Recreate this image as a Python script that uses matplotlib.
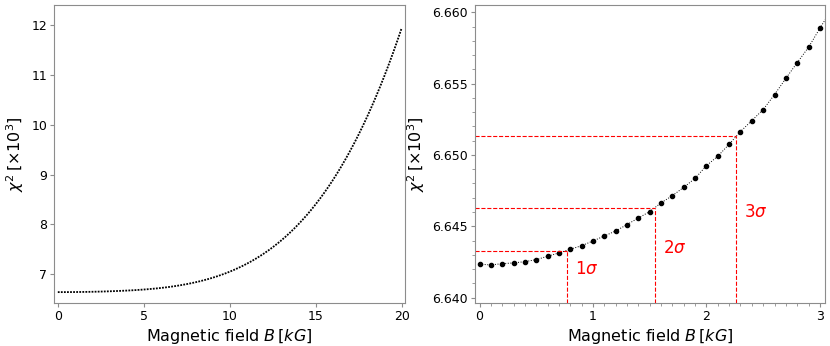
import numpy as np
import matplotlib
matplotlib.use("Agg")
import matplotlib.pyplot as plt
from matplotlib.ticker import MultipleLocator

# chi^2 [x10^3] vs magnetic field B [kG]
# fine part 0..3 kG (0.1 steps), visible in the zoomed panel
b_fine = [0.0, 0.1, 0.2, 0.3, 0.4, 0.5, 0.6, 0.7, 0.8, 0.9,
          1.0, 1.1, 1.2, 1.3, 1.4, 1.5, 1.6, 1.7, 1.8, 1.9,
          2.0, 2.1, 2.2, 2.3, 2.4, 2.5, 2.6, 2.7, 2.8, 2.9, 3.0]
chi_fine = [6.64234, 6.64229, 6.64238, 6.64243, 6.64252, 6.64266, 6.64290,
            6.64313, 6.64339, 6.64364, 6.64397, 6.64432, 6.64467, 6.64512,
            6.64558, 6.64603, 6.64664, 6.64715, 6.64773, 6.64836, 6.64925,
            6.64991, 6.65075, 6.65164, 6.65241, 6.65318, 6.65423, 6.65537,
            6.65647, 6.65755, 6.65888]

# coarse part 3.25..20 kG (0.25 steps)
b_coarse = [3.25, 3.5, 3.75, 4.0, 4.25, 4.5, 4.75, 5.0, 5.25, 5.5, 5.75,
            6.0, 6.25, 6.5, 6.75, 7.0, 7.25, 7.5, 7.75, 8.0, 8.25, 8.5, 8.75,
            9.0, 9.25, 9.5, 9.75, 10.0, 10.25, 10.5, 10.75, 11.0, 11.25, 11.5,
            11.75, 12.0, 12.25, 12.5, 12.75, 13.0, 13.25, 13.5, 13.75, 14.0,
            14.25, 14.5, 14.75, 15.0, 15.25, 15.5, 15.75, 16.0, 16.25, 16.5,
            16.75, 17.0, 17.25, 17.5, 17.75, 18.0, 18.25, 18.5, 18.75, 19.0,
            19.25, 19.5, 19.75, 20.0]
chi_coarse = [6.6621, 6.6653, 6.6689, 6.6730, 6.6775, 6.6825, 6.6880,
              6.6942, 6.7011, 6.7086, 6.7168, 6.7260, 6.7360, 6.7472,
              6.7594, 6.7728, 6.7874, 6.8032, 6.8205, 6.8391, 6.8594,
              6.8812, 6.9048, 6.9302, 6.9576, 6.9870, 7.0185, 7.0523,
              7.0885, 7.1272, 7.1685, 7.2125, 7.2594, 7.3093, 7.3624,
              7.4187, 7.4784, 7.5417, 7.6087, 7.6796, 7.7544, 7.8334,
              7.9168, 8.0046, 8.0971, 8.1943, 8.2966, 8.4041, 8.5168,
              8.6351, 8.7591, 8.8891, 9.0251, 9.1674, 9.3161, 9.4715,
              9.6338, 9.8032, 9.9799, 10.1641, 10.3560, 10.5558, 10.7638,
              10.9802, 11.2052, 11.4391, 11.6820, 11.9343]

B = np.array(b_fine + b_coarse)
chi2 = np.array(chi_fine + chi_coarse)

# confidence levels (delta chi^2 = 1, 4, 9)
sig_labels = [r"$1\sigma$", r"$2\sigma$", r"$3\sigma$"]
sig_b = [0.77, 1.55, 2.26]
sig_chi = [6.6433, 6.6463, 6.6513]
sig_text_x = [0.84, 1.62, 2.33]
sig_text_y = [6.6414, 6.64285, 6.64537]

xlabel = r"Magnetic field $B\,[kG]$"
ylabel = r"$\chi^2\,[\times 10^3]$"

fig = plt.figure(figsize=(8.3, 3.46), dpi=100)
ax1 = fig.add_axes([0.0651, 0.1234, 0.4229, 0.863])
ax2 = fig.add_axes([0.5723, 0.1234, 0.4217, 0.863])

grey = "#8c8c8c"

##########################################
# full range

ax1.plot(B, chi2, color="k", ls=(0, (1, 0.7)), lw=1.3)
ax1.set_xlim(-0.22, 20.2)
ax1.set_ylim(6.418, 12.407)
ax1.set_xticks([0, 5, 10, 15, 20])
ax1.set_yticks([7, 8, 9, 10, 11, 12])

##########################################
# zoom on low field with sigma levels

ax2.plot(B, chi2, color="k", ls=":", lw=0.7, marker="o", ms=3.0)
x0, x1 = -0.04, 3.045
y0, y1 = 6.6396, 6.66053
for xs, ys in zip(sig_b, sig_chi):
    ax2.hlines(ys, x0, xs, colors="red", linestyles="--", lw=0.8)
    ax2.vlines(xs, y0, ys, colors="red", linestyles="--", lw=0.8)
for tx, ty, lab in zip(sig_text_x, sig_text_y, sig_labels):
    ax2.text(tx, ty, lab, color="red", fontsize=12, ha="left", va="bottom")
ax2.set_xlim(x0, x1)
ax2.set_ylim(y0, y1)
ax2.set_xticks([0, 1, 2, 3])
ax2.set_yticks([6.640, 6.645, 6.650, 6.655, 6.660])
ax2.yaxis.set_major_formatter(matplotlib.ticker.FormatStrFormatter("%.3f"))
ax2.xaxis.set_minor_locator(MultipleLocator(0.1))
ax2.yaxis.set_minor_locator(MultipleLocator(0.001))

for ax in (ax1, ax2):
    for s in ax.spines.values():
        s.set_color(grey)
    ax.tick_params(which="major", length=3, pad=2, color=grey, labelsize=9)
    ax.tick_params(which="minor", length=2, color=grey)
    ax.set_xlabel(xlabel, fontsize=11.5, labelpad=3)
    ax.set_ylabel(ylabel, fontsize=11.5, labelpad=4)

fig.savefig("out.png", dpi=100)
